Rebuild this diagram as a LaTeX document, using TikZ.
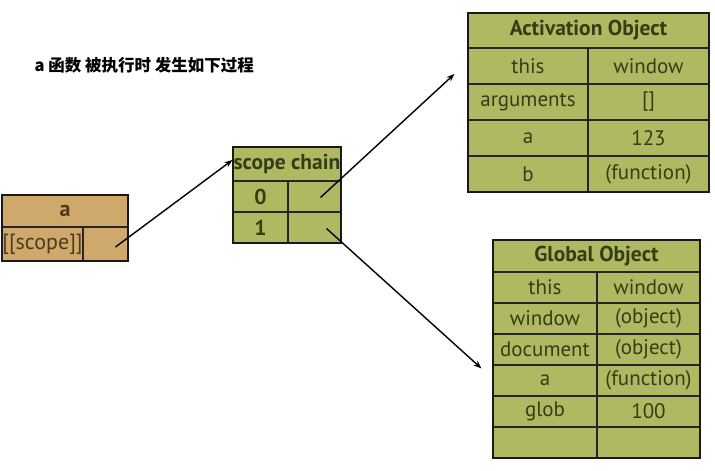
\documentclass[tikz,border=0pt]{standalone}
\usepackage{fontspec}
\setmainfont{PT Sans}
\newfontfamily\cjk{Noto Sans CJK SC}
\usetikzlibrary{arrows.meta}
\definecolor{olivefill}{RGB}{176,184,98}
\definecolor{tanfill}{RGB}{207,168,108}
\definecolor{olivetext}{RGB}{52,62,22}
\definecolor{tantext}{RGB}{78,58,28}
\tikzset{
  cell/.style={draw=black!85, line width=1.1pt, fill=olivefill, text=olivetext,
    inner sep=0pt, font=\fontsize{21}{24}\selectfont, anchor=center},
  hcell/.style={cell, font=\fontsize{21.5}{24}\selectfont\bfseries},
  tcell/.style={cell, fill=tanfill, text=tantext, font=\fontsize{22}{24}\selectfont},
  thcell/.style={tcell, font=\fontsize{22}{24}\selectfont\bfseries},
  frame/.style={draw=black!90, line width=2pt},
  link/.style={line width=1.4pt, -{Stealth[length=8pt,width=6pt]}}
}
\begin{document}
\begin{tikzpicture}[x=1pt,y=-1pt]
\useasboundingbox (0,0) rectangle (715,471);
% title
\node[anchor=west, font=\cjk\fontsize{16.5}{19}\selectfont\bfseries] (title) at (31,65) {a 函数 被执行时 发生如下过程};
% box a
\node[thcell, minimum width=126, minimum height=32] (aH) at (65,211) {a};
\node[tcell, minimum width=81, minimum height=34] (aK) at (42.5,244) {[[scope]]};
\node[tcell, minimum width=45, minimum height=34] (aS) at (105.5,244) {};
\draw[frame] (2,195) rectangle (128,261);
% scope chain
\node[hcell, minimum width=108, minimum height=34] (sH) at (287,164) {scope chain};
\node[hcell, minimum width=55, minimum height=31] (s0k) at (260.5,196.5) {0};
\node[cell, minimum width=53, minimum height=31] (s0v) at (314.5,196.5) {};
\node[hcell, minimum width=55, minimum height=31] (s1k) at (260.5,227.5) {1};
\node[cell, minimum width=53, minimum height=31] (s1v) at (314.5,227.5) {};
\draw[frame] (233,147) rectangle (341,243);
% activation object
\node[hcell, minimum width=241, minimum height=35] (aoH) at (588.5,30.5) {Activation Object};
\foreach \k/\v/\n [count=\i] in {this/window/1, arguments/{[]}/2, a/123/3, b/(function)/4}{
  \pgfmathsetmacro{\yy}{48+36*(\i-1)+18}
  \node[cell, minimum width=120, minimum height=36] (ao\n k) at (528,\yy) {\k};
  \node[cell, minimum width=121, minimum height=36] (ao\n v) at (648.5,\yy) {\v};
}
\draw[frame] (468,13) rectangle (709,192);
% global object
\node[hcell, minimum width=207, minimum height=32] (goH) at (596.5,256) {Global Object};
\foreach \k/\v/\n [count=\i] in {this/window/1, window/(object)/2, document/(object)/3, a/(function)/4, glob/100/5, {}/{}/6}{
  \pgfmathsetmacro{\yy}{272+31*(\i-1)+15.5}
  \node[cell, minimum width=104, minimum height=31] (go\n k) at (545,\yy) {\k};
  \node[cell, minimum width=103, minimum height=31] (go\n v) at (648.5,\yy) {\v};
}
\draw[frame] (493,240) rectangle (700,458);
% connectors
\coordinate (t1) at ([yshift=4]sH.west);
\coordinate (t2) at ([xshift=-13,yshift=-8]ao1k.west);
\coordinate (t3) at ([xshift=-11,yshift=-4]go4k.north west);
\draw[link] ([shift={(10,3)}]aS.center) -- (t1);
\draw[link] ([shift={(6,1)}]s0v.center) -- (t2);
\draw[link] ([shift={(12,1)}]s1v.center) -- (t3);
\end{tikzpicture}
\end{document}
